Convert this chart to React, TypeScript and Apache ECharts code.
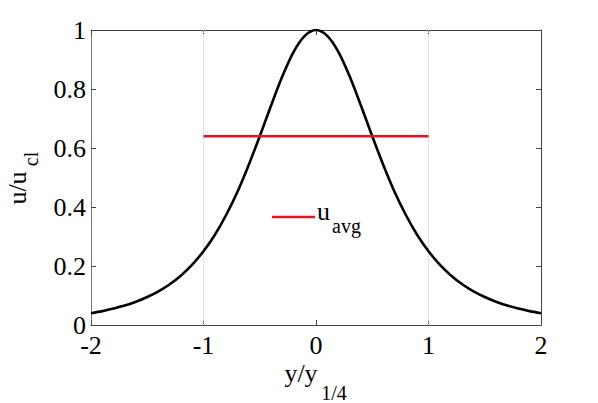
import React, { useEffect, useRef } from "react";
import * as echarts from "echarts";

const xValues = [
  -2.0, -1.9, -1.8, -1.7, -1.6, -1.5, -1.4, -1.3, -1.2, -1.1, -1.0, -0.9, -0.8, -0.7, -0.6, -0.5, -0.4, -0.3,
  -0.2, -0.1, 0.0, 0.1, 0.2, 0.3, 0.4, 0.5, 0.6, 0.7, 0.8, 0.9, 1.0, 1.1, 1.2, 1.3, 1.4, 1.5, 1.6, 1.7, 1.8,
  1.9, 2.0,
];
const profileValues = [
  0.04, 0.047, 0.056, 0.066, 0.079, 0.095, 0.114, 0.138, 0.168, 0.205, 0.25, 0.305, 0.372, 0.45, 0.541, 0.64,
  0.743, 0.842, 0.925, 0.98, 1.0, 0.98, 0.925, 0.842, 0.743, 0.64, 0.541, 0.45, 0.372, 0.305, 0.25, 0.205,
  0.168, 0.138, 0.114, 0.095, 0.079, 0.066, 0.056, 0.047, 0.04,
];
const avgX = [-1, 1];
const avgValues = [0.64, 0.64];
const gridLineX = [-1, 1];
const xTicks = { min: -2, max: 2, interval: 1 };
const yTicks = { min: 0, max: 1, interval: 0.2 };

const FONT = '"Liberation Serif", "Times New Roman", serif';

export default function App() {
  const ref = useRef<HTMLDivElement>(null);
  useEffect(() => {
    document.body.style.margin = "0";
    const chart = echarts.init(ref.current!, null, { renderer: "svg" });
    const axisLine = { show: true, onZero: false, lineStyle: { color: "#444", width: 1 } };
    const tick = { show: true, inside: true, length: 5, lineStyle: { color: "#444" } };
    chart.setOption({
      animation: false,
      backgroundColor: "#fff",
      grid: { left: 91, top: 30, width: 450, height: 295, containLabel: false },
      xAxis: [
        {
          type: "value",
          position: "bottom",
          ...xTicks,
          axisLine,
          axisTick: tick,
          splitLine: { show: false },
          axisLabel: { fontFamily: FONT, fontSize: 26, lineHeight: 20, color: "#000", margin: 10 },
        },
        {
          type: "value",
          position: "top",
          ...xTicks,
          axisLine,
          axisTick: tick,
          splitLine: { show: false },
          axisLabel: { show: false },
        },
      ],
      yAxis: [
        {
          type: "value",
          position: "left",
          ...yTicks,
          axisLine: { show: true, onZero: false, lineStyle: { color: "#777", width: 1 } },
          axisTick: tick,
          splitLine: { show: false },
          axisLabel: {
            fontFamily: FONT,
            fontSize: 26,
            lineHeight: 20,
            color: "#000",
            margin: 5,
            formatter: (v: number) => String(Math.round(v * 10) / 10),
          },
        },
        {
          type: "value",
          position: "right",
          ...yTicks,
          axisLine,
          axisTick: tick,
          splitLine: { show: false },
          axisLabel: { show: false },
        },
      ],
      series: [
        {
          type: "line",
          data: xValues.map((x, i) => [x, profileValues[i]]),
          smooth: 0.3,
          showSymbol: false,
          lineStyle: { color: "#000", width: 2.6 },
          z: 3,
          markLine: {
            silent: true,
            symbol: "none",
            label: { show: false },
            lineStyle: { color: "#cccccc", type: "dotted", width: 1 },
            data: gridLineX.map((x) => ({ xAxis: x })),
            z: 1,
          },
        },
        {
          type: "line",
          data: avgX.map((x, i) => [x, avgValues[i]]),
          showSymbol: false,
          lineStyle: { color: "#e3141e", width: 2.6 },
          z: 4,
        },
      ],
      graphic: [
        {
          type: "text",
          x: 17,
          y: 188,
          rotation: Math.PI / 2,
          style: { text: "u/u", fontFamily: FONT, fontSize: 26, fill: "#000", textAlign: "center", textVerticalAlign: "middle" },
        },
        {
          type: "text",
          x: 31,
          y: 159,
          rotation: Math.PI / 2,
          style: { text: "cl", fontFamily: FONT, fontSize: 20, fill: "#000", textAlign: "center", textVerticalAlign: "middle" },
        },
        {
          type: "text",
          x: 301,
          y: 373,
          style: { text: "y/y", fontFamily: FONT, fontSize: 26, fill: "#000", textAlign: "center", textVerticalAlign: "middle" },
        },
        {
          type: "text",
          x: 334,
          y: 393,
          style: { text: "1/4", fontFamily: FONT, fontSize: 20, fill: "#000", textAlign: "center", textVerticalAlign: "middle" },
        },
        {
          type: "line",
          shape: { x1: 272, y1: 217, x2: 315, y2: 217 },
          style: { stroke: "#e3141e", lineWidth: 2.6 },
        },
        {
          type: "text",
          x: 317,
          y: 211,
          style: { text: "u", fontFamily: FONT, fontSize: 26, fill: "#000", textAlign: "left", textVerticalAlign: "middle" },
        },
        {
          type: "text",
          x: 332,
          y: 226,
          style: { text: "avg", fontFamily: FONT, fontSize: 20, fill: "#000", textAlign: "left", textVerticalAlign: "middle" },
        },
      ],
    });
    return () => chart.dispose();
  }, []);
  return <div ref={ref} style={{ width: 598, height: 403 }} />;
}
